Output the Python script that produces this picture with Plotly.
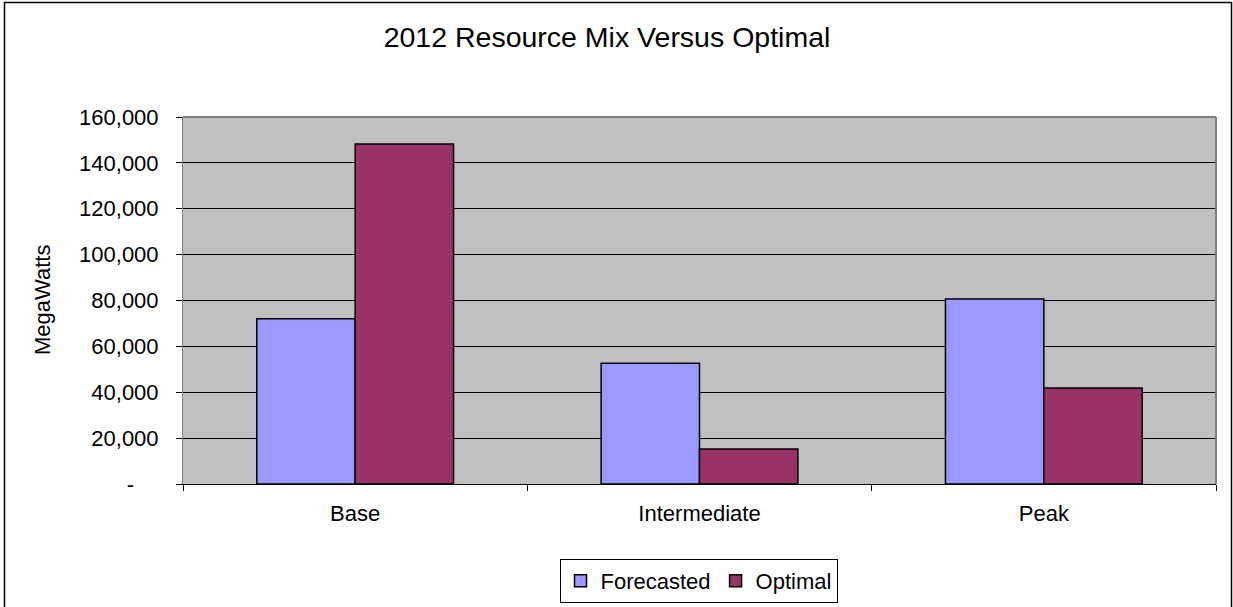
import plotly.graph_objects as go

# Resource mix data (MW)
categories = ["Base", "Intermediate", "Peak"]
forecasted = [72000, 52600, 80700]
optimal = [148200, 15300, 41900]

y_tick_vals = [0, 20000, 40000, 60000, 80000, 100000, 120000, 140000, 160000]
y_tick_text = ["-\u00a0\u00a0\u00a0\u00a0", "20,000", "40,000", "60,000", "80,000",
               "100,000", "120,000", "140,000", "160,000"]

W, H = 1233, 607
L, R, T, B = 183, 1216, 117, 484   # plot area edges in pixels
PW, PH = R - L, B - T

def px_x(p):
    return (p - L) / PW

def px_y(p):
    return (B - p) / PH

FONT = "Liberation Sans, Arial, sans-serif"

fig = go.Figure()
fig.add_trace(go.Bar(
    name="Forecasted", x=categories, y=forecasted,
    marker=dict(color="#9999FF", line=dict(color="#000000", width=1.5)),
))
fig.add_trace(go.Bar(
    name="Optimal", x=categories, y=optimal,
    marker=dict(color="#993366", line=dict(color="#000000", width=1.5)),
))

fig.update_layout(
    width=W, height=H,
    margin=dict(l=L, r=W - R, t=T, b=H - B, pad=0),
    paper_bgcolor="#FFFFFF",
    plot_bgcolor="#C0C0C0",
    font=dict(family=FONT, size=22, color="#000000"),
    barmode="group",
    bargap=1.5 / 3.5,
    bargroupgap=0,
    title=dict(
        text="2012 Resource Mix Versus Optimal",
        x=607 / W, xanchor="center", xref="container",
        y=1 - 37 / H, yanchor="middle", yref="container",
        font=dict(family=FONT, size=28.5, color="#000000"),
    ),
    showlegend=True,
    legend=dict(
        orientation="h",
        xref="container", yref="container",
        x=698.5 / W, xanchor="center",
        y=1 - 559 / H, yanchor="top",
        bordercolor="#000000", borderwidth=1,
        bgcolor="#FFFFFF",
        font=dict(family=FONT, size=22, color="#000000"),
        itemwidth=30,
        tracegroupgap=0,
        traceorder="normal",
    ),
    xaxis=dict(
        type="category",
        showgrid=False,
        showline=True, linecolor="#000000", linewidth=1,
        ticks="outside", ticklen=6, tickcolor="#000000", tickwidth=1,
        tickson="boundaries",
        ticklabelstandoff=10,
        tickfont=dict(family=FONT, size=22, color="#000000"),
        fixedrange=True,
    ),
    yaxis=dict(
        range=[0, 160000],
        tickvals=y_tick_vals, ticktext=y_tick_text,
        showgrid=True, gridcolor="#000000", gridwidth=1,
        zeroline=False,
        showline=True, linecolor="#808080", linewidth=1,
        ticks="outside", ticklen=6, tickcolor="#000000", tickwidth=1,
        ticklabelstandoff=13,
        tickfont=dict(family=FONT, size=22, color="#000000"),
        fixedrange=True,
    ),
    annotations=[dict(
        text="MegaWatts", textangle=-90,
        xref="paper", yref="paper",
        x=px_x(42), y=px_y(300),
        xanchor="center", yanchor="middle",
        showarrow=False,
        font=dict(family=FONT, size=22, color="#000000"),
    )],
    shapes=[
        # plot-area frame (top and right edges)
        dict(type="line", xref="paper", yref="paper", x0=0, x1=1, y0=1, y1=1,
             line=dict(color="#808080", width=2), layer="above"),
        dict(type="line", xref="paper", yref="paper", x0=1, x1=1, y0=0, y1=1,
             line=dict(color="#808080", width=2), layer="above"),
        # chart frame
        dict(type="rect", xref="paper", yref="paper",
             x0=px_x(4.5), x1=px_x(1231.5), y0=px_y(640), y1=px_y(2.5),
             line=dict(color="#000000", width=1.5), fillcolor="rgba(0,0,0,0)",
             layer="below"),
    ],
)

fig.write_html("out.html")
